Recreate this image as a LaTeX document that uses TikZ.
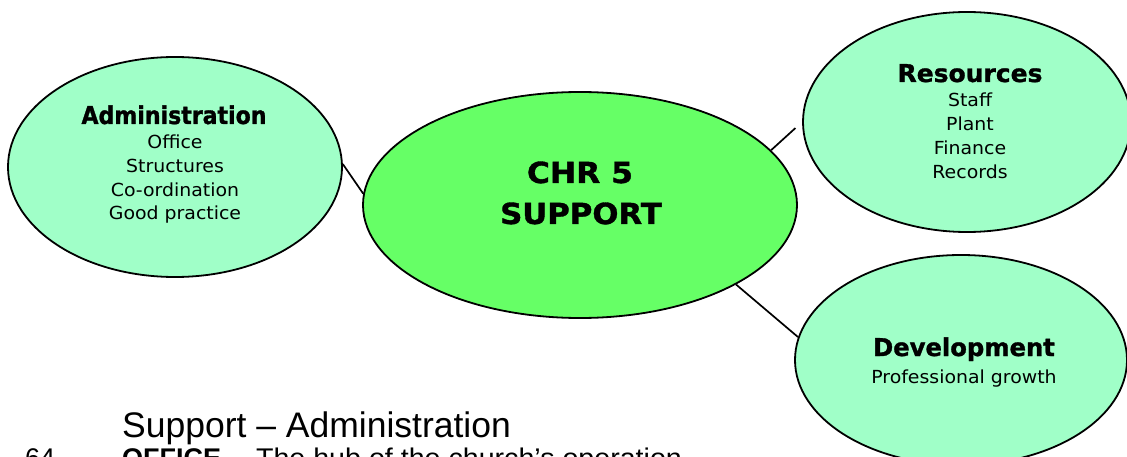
\documentclass[tikz,border=0pt]{standalone}
\usepackage{fontspec}
\setmainfont{DejaVu Sans}
\newfontfamily\itmfont[FakeStretch=1.05]{DejaVu Sans}
\newfontfamily\ttlfont[FakeBold=1.2]{DejaVu Sans Bold}
\newfontfamily\libsans{Liberation Sans}
\usetikzlibrary{shapes.geometric}
\definecolor{mint}{RGB}{160,255,200}
\definecolor{hubgreen}{RGB}{102,255,102}
\begin{document}
\begin{tikzpicture}[x=1pt,y=-1pt,
  bubble/.style={ellipse, draw=black, line width=1.8pt, inner sep=0pt},
  sidebubble/.style={bubble, fill=mint},
  hubbubble/.style={bubble, fill=hubgreen},
  link/.style={draw=black, line width=1.7pt},
  ttl/.style={anchor=base, inner sep=0pt, font=\ttlfont\fontsize{24.5}{28}\selectfont},
  itm/.style={anchor=base, inner sep=0pt, font=\itmfont\fontsize{18}{22}\selectfont},
  hubtxt/.style={anchor=base, inner sep=0pt, font=\ttlfont\fontsize{29}{34}\selectfont},
  foot/.style={anchor=base west, inner sep=0pt, font=\libsans\fontsize{35.5}{40}\selectfont},
  footb/.style={anchor=base west, inner sep=0pt, font=\libsans\fontsize{27}{30}\selectfont},
]
\clip (0,0) rectangle (1127,457);
\fill[white] (0,0) rectangle (1127,457);

% bubbles
\node[sidebubble, minimum width=334pt, minimum height=220pt] (admin) at (175,167) {};
\node[hubbubble, minimum width=434pt, minimum height=226pt] (hub) at (580,205) {};
\node[sidebubble, minimum width=328pt, minimum height=220pt] (res) at (967,122) {};
\node[sidebubble, minimum width=332pt, minimum height=210pt] (dev) at (961,360) {};

% connectors
\draw[link] (admin.1) -- (hub.177);
\draw[link, shorten >=9pt] (hub.16) -- (res.west);
\draw[link] (hub.-27) -- (dev.172);

% Administration
\node[ttl] (a0) at (174,124) {\scalebox{0.9}[1]{Administration}};
\node[itm] (a1) at (175,149) {Office};
\node[itm] (a2) at (175,173) {Structures};
\node[itm] (a3) at (175,197) {Co-ordination};
\node[itm] (a4) at (175,220) {Good practice};

% hub
\node[hubtxt] (h0) at (580,183) {\scalebox{1.08}[1]{CHR 5}};
\node[hubtxt] (h1) at (581,224) {\scalebox{1.06}[1]{SUPPORT}};

% Resources
\node[ttl] (r0) at (970,82) {\scalebox{1.02}[1]{Resources}};
\node[itm] (r1) at (970,107) {Staff};
\node[itm] (r2) at (970,131) {Plant};
\node[itm] (r3) at (970,155) {Finance};
\node[itm] (r4) at (970,179) {Records};

% Development
\node[ttl] (d0) at (964,356) {\scalebox{0.99}[1]{Development}};
\node[itm] (d1) at (964,383) {Professional growth};

% page text below
\node[foot] (f0) at (122,437) {Support – Administration};
\node[footb] (f1) at (25,467) {64};
\node[footb] (f2) at (122,467) {\bfseries OFFICE};
\node[footb] (f3) at (232,467) {\scalebox{1.06}[1]{– The hub of the church’s operation}};
\end{tikzpicture}
\end{document}
